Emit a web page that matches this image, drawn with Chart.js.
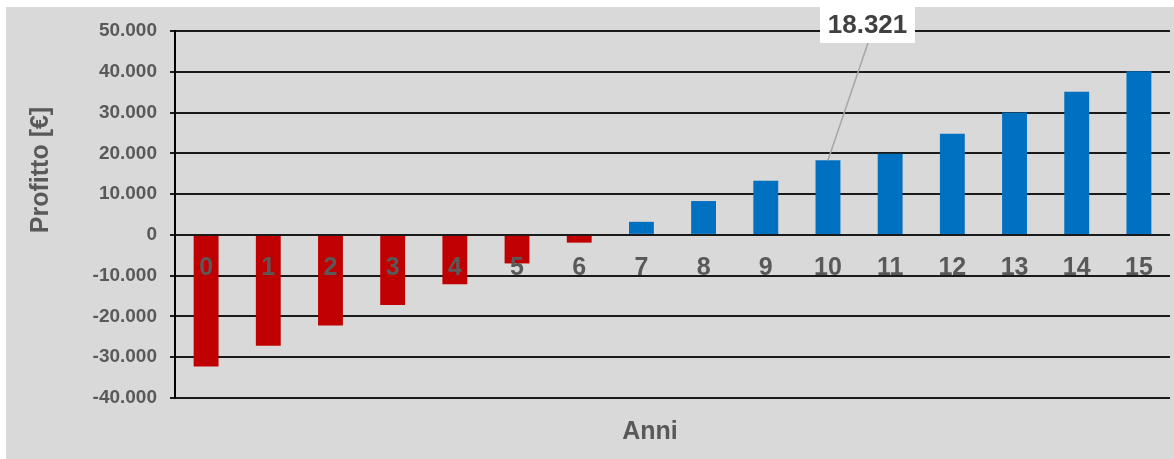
<!DOCTYPE html>
<html lang="it">
<head>
<meta charset="utf-8">
<title>Profitto per anno</title>
<script src="https://cdn.jsdelivr.net/npm/chart.js@4/dist/chart.umd.min.js"></script>
<style>
  html, body { margin: 0; padding: 0; background: #ffffff; }
  #wrap { position: relative; width: 1174px; height: 459px; }
</style>
</head>
<body>
<div id="wrap"><canvas id="chart" width="1174" height="459"></canvas></div>
<script>
// Anni di esercizio e profitto cumulato (€)
const categories = ['0', '1', '2', '3', '4', '5', '6', '7', '8', '9', '10', '11', '12', '13', '14', '15'];
const profitValues = [-32300, -27200, -22200, -17200, -12100, -7000, -1900, 3200, 8300, 13300, 18321, 19900, 24800, 30000, 35100, 40100];
const yTickValues = [-40000, -30000, -20000, -10000, 0, 10000, 20000, 30000, 40000, 50000];
const calloutIndex = 10;

const FONT = '"Liberation Sans", Arial, sans-serif';
const TEXT_GREY = '#595959';

// Formato italiano: separatore delle migliaia con il punto
function fmt(v) {
  const s = Math.abs(Math.round(v)).toString().replace(/\B(?=(\d{3})+(?!\d))/g, '.');
  return (v < 0 ? '-' : '') + s;
}

const barColors = profitValues.map(v => v < 0 ? '#c00000' : '#0070c0');

const decorPlugin = {
  id: 'decor',
  beforeDraw(chart) {
    const ctx = chart.ctx;
    ctx.save();
    ctx.fillStyle = '#d9d9d9';
    ctx.fillRect(6, 7, chart.width - 6, chart.height - 7);
    ctx.restore();
  },
  afterDraw(chart) {
    const ctx = chart.ctx;
    const xs = chart.scales.x;
    const ys = chart.scales.y;
    const zeroY = ys.getPixelForValue(0);

    // Etichette degli anni lungo l'asse dello zero
    ctx.save();
    ctx.font = 'bold 25px ' + FONT;
    ctx.fillStyle = TEXT_GREY;
    ctx.textAlign = 'center';
    ctx.textBaseline = 'middle';
    categories.forEach((c, i) => {
      ctx.fillText(c, xs.getPixelForValue(i), zeroY + 33);
    });
    ctx.restore();

    // Titoli degli assi
    ctx.save();
    ctx.font = 'bold 25px ' + FONT;
    ctx.fillStyle = TEXT_GREY;
    ctx.textAlign = 'center';
    ctx.textBaseline = 'middle';
    ctx.fillText('Anni', 650, 432);
    ctx.translate(41, 170);
    ctx.rotate(-Math.PI / 2);
    ctx.fillText('Profitto [€]', 0, 0);
    ctx.restore();

    // Richiamo con il valore dell'anno 10
    const bx = xs.getPixelForValue(calloutIndex);
    const by = ys.getPixelForValue(profitValues[calloutIndex]);
    const box = { x: 820, y: 7, w: 95, h: 36 };
    ctx.save();
    ctx.strokeStyle = '#a6a6a6';
    ctx.lineWidth = 1.5;
    ctx.beginPath();
    ctx.moveTo(box.x + 48, box.y + box.h);
    ctx.lineTo(bx, by);
    ctx.stroke();
    ctx.fillStyle = '#ffffff';
    ctx.fillRect(box.x, box.y, box.w, box.h);
    ctx.font = 'bold 26px ' + FONT;
    ctx.fillStyle = '#404040';
    ctx.textAlign = 'center';
    ctx.textBaseline = 'middle';
    ctx.fillText(fmt(profitValues[calloutIndex]), box.x + box.w / 2, box.y + box.h / 2 + 1);
    ctx.restore();
  }
};

new Chart(document.getElementById('chart'), {
  type: 'bar',
  data: {
    labels: categories,
    datasets: [{
      data: profitValues,
      backgroundColor: barColors,
      borderWidth: 0,
      categoryPercentage: 1,
      barPercentage: 0.4
    }]
  },
  options: {
    responsive: false,
    animation: false,
    devicePixelRatio: 1,
    layout: { padding: { top: 31, right: 4, bottom: 0, left: 0 } },
    plugins: {
      legend: { display: false },
      tooltip: { enabled: false }
    },
    scales: {
      x: {
        grid: { display: false },
        border: { display: false },
        ticks: { display: false },
        afterFit(scale) { scale.height = 61; }
      },
      y: {
        min: -40000,
        max: 50000,
        afterBuildTicks(scale) {
          scale.ticks = yTickValues.map(v => ({ value: v }));
        },
        afterFit(scale) { scale.width = 175; },
        grid: {
          color: '#1a1a1a',
          lineWidth: 2,
          drawTicks: true,
          tickLength: 5
        },
        border: { display: true, color: '#000000', width: 2 },
        ticks: {
          padding: 13,
          color: TEXT_GREY,
          font: { family: FONT, size: 19, weight: 'bold' },
          callback: v => fmt(v)
        }
      }
    }
  },
  plugins: [decorPlugin]
});
</script>
</body>
</html>
